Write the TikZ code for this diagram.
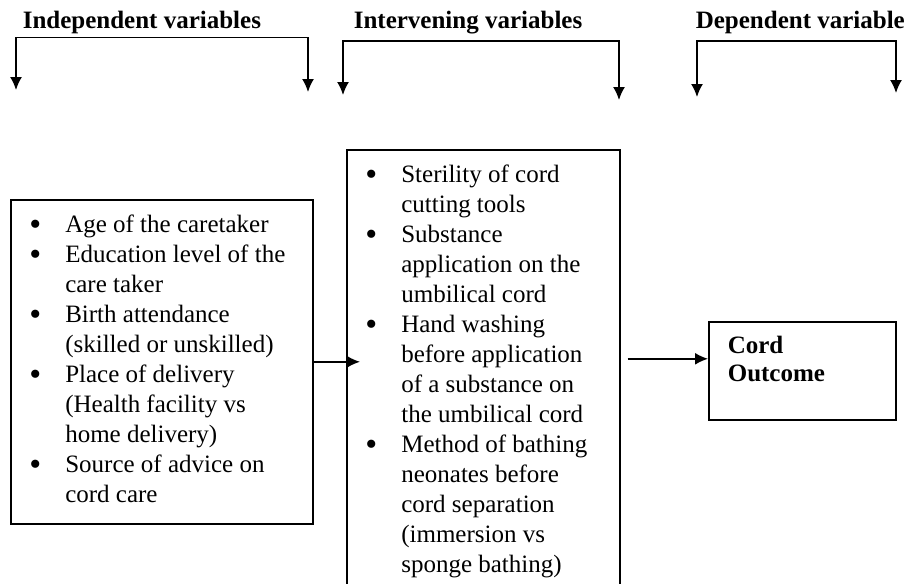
\documentclass[tikz,border=0pt]{standalone}
\usepackage{fontspec}
\setmainfont{Liberation Serif}
\usepackage{array}
\usetikzlibrary{arrows.meta}

\tikzset{
    head/.style={anchor=base west,inner sep=0pt,font=\fontsize{12.5}{15}\selectfont\bfseries},
    varbox/.style={draw,line width=0.8pt,anchor=north west,inner xsep=9.25pt,inner ysep=6pt},
}
\newcommand{\bul}{\raisebox{-1.3pt}{\fontsize{17}{15}\selectfont\textbullet}}

\begin{document}
\begin{tikzpicture}[>={Latex[length=6.5pt,width=6pt]},x=0.5pt,y=-0.5pt,line width=0.8pt,font=\fontsize{12.5}{15}\selectfont]
            \useasboundingbox (0,0) rectangle (906,584);
            %%%%%%%%%%%%%%%%%%%%%%%%%%%%%%%%%%%%%%%%%%开始表头
            \foreach \nm/\tx/\lx/\rx/\hy/\la/\ra/\t in {indep/22/16/308/37.5/90/92/Independent variables,interv/353/343/619/41/95/100/Intervening variables,dep/695/697/896/41/97/93/Dependent variable}
            {
                \node[head] (\nm) at (\tx,28) {\t};
                \coordinate (\nm l) at (\lx,\la);
                \coordinate (\nm r) at (\rx,\ra);
                \draw[<->] (\nm l) |- (\rx,\hy) -- (\nm r);
            }
            %%%%%%%%%%%%%%%%%%%%%%%%%%%%%%%%%%%%%%%%%%结束表头
            \node[varbox] (indepbox) at (10,199) {%
                \begin{tabular}[t]{@{}p{18pt}@{}p{114.5pt}@{}}
                    \bul & Age of the caretaker\\
                    \bul & Education level of the\\
                         & care taker\\
                    \bul & Birth attendance\\
                         & (skilled or unskilled)\\
                    \bul & Place of delivery\\
                         & (Health facility vs\\
                         & home delivery)\\
                    \bul & Source of advice on\\
                         & cord care
                \end{tabular}};
            \node[varbox] (intbox) at (346,149) {%
                \begin{tabular}[t]{@{}p{18pt}@{}p{100pt}@{}}
                    \bul & Sterility of cord\\
                         & cutting tools\\
                    \bul & Substance\\
                         & application on the\\
                         & umbilical cord\\
                    \bul & Hand washing\\
                         & before application\\
                         & of a substance on\\
                         & the umbilical cord\\
                    \bul & Method of bathing\\
                         & neonates before\\
                         & cord separation\\
                         & (immersion vs\\
                         & sponge bathing)
                \end{tabular}};
            \node[varbox,inner xsep=9.5pt,text depth=27.2pt,font=\fontsize{12.5}{14}\selectfont\bfseries] (outbox) at (708,321) {%
                \begin{tabular}[t]{@{}p{74.5pt}@{}}
                    Cord\\
                    Outcome
                \end{tabular}};
            \coordinate (outin) at ([yshift=6pt]outbox.west);
            \draw[->] (indepbox.east) -- ([xshift=7pt]intbox.west |- indepbox.east);
            \draw[->] ([xshift=3.5pt]intbox.east |- outin) -- (outin);
        \end{tikzpicture}
\end{document}
